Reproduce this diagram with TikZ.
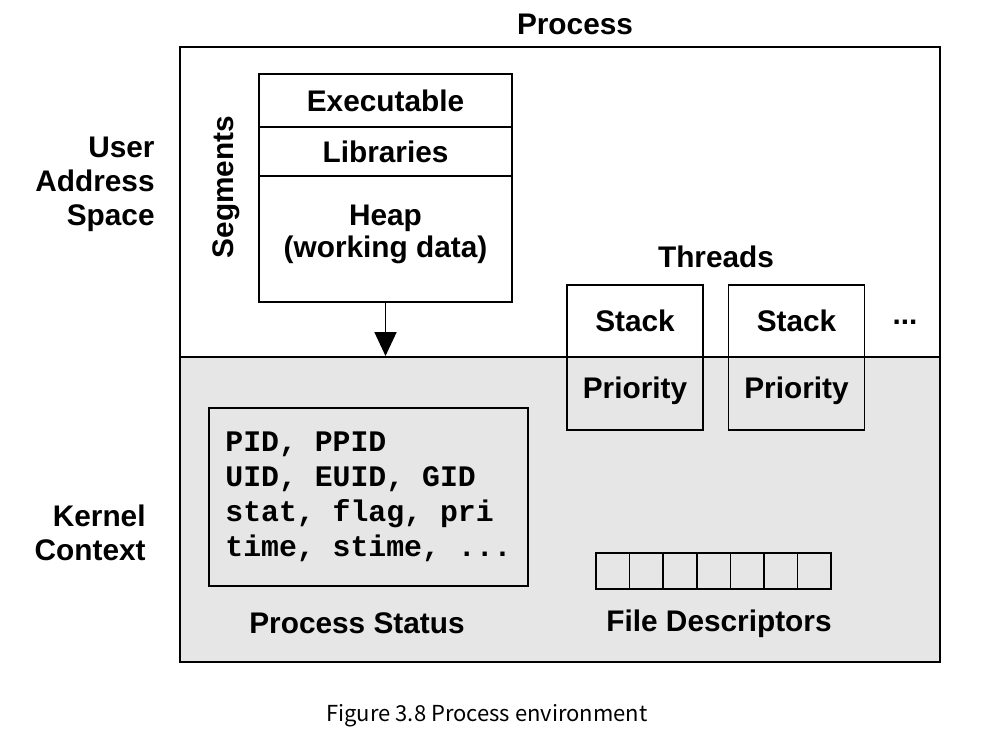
\documentclass[tikz,border=0pt]{standalone}
\usepackage{fontspec}
\setmainfont{Liberation Sans}
\setmonofont{Liberation Mono}
\newfontfamily\capfont{Noto Sans CJK SC}
\usepackage{xcolor}
\usepackage{tikz}
\usetikzlibrary{arrows.meta, positioning}
\definecolor{kernelgray}{HTML}{E6E6E6}

\begin{document}
\begin{tikzpicture}[
      x=0.5pt, y=-0.5pt,
      every node/.style={font=\fontsize{14.9}{17}\selectfont\bfseries},
      frame/.style={line width=0.9pt},
      seg/.style={draw, line width=0.9pt, minimum width=126.5pt, inner sep=0pt},
      thread/.style={draw, line width=0.9pt, minimum width=68pt, minimum height=72.5pt, align=center, inner sep=0pt},
      status/.style={draw, line width=0.9pt, minimum width=159.5pt, minimum height=89pt, align=left,
        font=\fontsize{14.9}{17.5}\selectfont\ttfamily\bfseries},
      fdcell/.style={draw, line width=0.8pt, minimum width=16.8pt, minimum height=18pt, inner sep=0pt},
      side/.style={align=right, inner sep=0pt},
      arrow/.style={-{Triangle[width=11pt, length=12pt]}, line width=0.9pt}
    ]
    \useasboundingbox (0,0) rectangle (988,746);

    % Process frame
    \fill[kernelgray] (180,357) rectangle (940,662);
    \draw[frame] (180,47) rectangle (940,662);
    \draw[frame] (180,357) -- (940,357);
    \node (process) at (575,24) {Process};

    % Side labels
    \node[side, anchor=east] (user) at (155,184) {User\\Address\\Space};
    \node[side, anchor=east] (kernel) at (146,533) {Kernel\\Context};

    % Segments
    \node[seg, minimum height=26.5pt] (exe) at (385.5,100.5) {Executable};
    \node[seg, minimum height=24.5pt] (lib) at (385.5,151.5) {Libraries};
    \node[seg, minimum height=63pt] (heap) at (385.5,239) {};
    \node[align=center, font=\fontsize{14.9}{16}\selectfont\bfseries] (heaptext) at (385.5,234) {Heap\\(working data)};
    \node[rotate=90] (segments) at (226,187) {Segments};
    \coordinate (heaptip) at (385.5,356);

    % Threads
    \node (threads) at (716,257) {Threads};
    \node[thread] (thread1) at (635,357.5) {Stack\\[16.5pt]Priority};
    \node[thread] (thread2) at (796.5,357.5) {Stack\\[16.5pt]Priority};
    \node (more) at (905,322) {...};

    % Process status
    \node[status] (pstatus) at (368.5,497) {PID, PPID\\UID, EUID, GID\\stat, flag, pri\\time, stime, ...};
    \node (pstatuslabel) at (357,623) {Process Status};

    % File descriptors
    \foreach \i in {0,...,6}
      \node[fdcell] (fd\i) at (596+33.6*\i+16.8,571) {};
    \node (fdlabel) at (719,624) {File Descriptors};

    % Arrows
    \draw[arrow] (heap.south) -- (heaptip);

    % Caption
    \node[font=\capfont\fontsize{11}{13}\selectfont] (caption) at (487,716) {Figure 3.8 Process environment};

    \end{tikzpicture}
\end{document}
